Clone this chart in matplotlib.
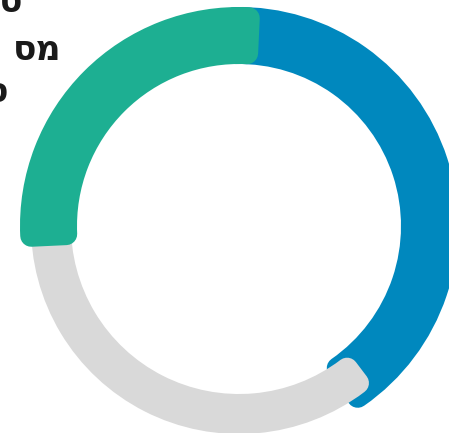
import matplotlib
matplotlib.use("Agg")
import matplotlib.pyplot as plt
from matplotlib.patches import Wedge
import numpy as np

# Data
labels = ["כחול", "אפור", "ירוק"]
values = [40, 35, 25]
colors = ["#0088be", "#d9d9d9", "#1daf92"]
title_lines = ["ס", "מס", "ס"]

W, H, DPI = 449, 433, 100
fig = plt.figure(figsize=(W / DPI, H / DPI), dpi=DPI)
ax = fig.add_axes([0, 0, 1, 1])
ax.set_xlim(0, W)
ax.set_ylim(H, 0)
ax.set_aspect("equal")
ax.axis("off")

cx, cy = 239, 226
bands = {0: (162, 219), 1: (168, 208), 2: (162, 219)}
pads = {0: 4.5, 1: 4.5, 2: 6.0}   # degrees of overlap beyond each boundary
rc = 11.0      # corner radius in px

total = sum(values)
bounds = np.concatenate([[0], np.cumsum(values)]) / total * 360.0

for i in range(len(values)):
    a1 = bounds[i] - pads[i]
    a2 = bounds[i + 1] + pads[i]
    r_in, r_out = bands[i]
    rmid = (r_in + r_out) / 2
    dth = np.degrees(rc / rmid)
    w = Wedge((cx, cy), r_out - rc, a1 - 90 + dth, a2 - 90 - dth,
              width=(r_out - r_in - 2 * rc),
              facecolor=colors[i], edgecolor=colors[i],
              linewidth=2 * rc * 72 / DPI, joinstyle="round", zorder=2 + i)
    ax.add_patch(w)

# Clipped title lines (Hebrew, RTL -> reversed for display)
title_pos = [(22, 12), (62, 60), (8, 102)]
for txt, (x, y) in zip(title_lines, title_pos):
    ax.text(x, y, txt[::-1], ha="right", va="baseline", fontsize=25,
            fontweight="bold", color="#1a1a1a",
            family=["Open Sans", "DejaVu Sans"], zorder=10)

fig.savefig("out.png", dpi=DPI)
